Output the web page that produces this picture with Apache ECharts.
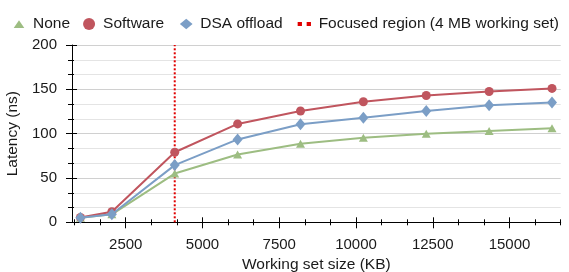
<!DOCTYPE html>
<html>
<head>
<meta charset="utf-8">
<script src="https://cdn.jsdelivr.net/npm/echarts@6/dist/echarts.min.js"></script>
<style>
html,body{margin:0;padding:0;background:#fff;}
#c{width:569px;height:272px;}
</style>
</head>
<body>
<div id="c"></div>
<script>
// ---- data ----
var sizesKB = [1024, 2048, 4096, 6144, 8192, 10240, 12288, 14336, 16384];
var noneLatency = [5, 9, 55, 76.5, 88.5, 95.5, 100, 103, 106];
var softwareLatency = [5.5, 12, 79, 111, 125.5, 136, 143, 147.5, 151];
var dsaLatency = [5, 9, 64.5, 93.5, 110.5, 118, 125.5, 132, 135];
var focusedX = 4096;
var focusedRange = [0, 200];
var xMajorTicks = [2500, 5000, 7500, 10000, 12500, 15000];
var xMinorTicks = [833, 1667, 3333, 4167, 5833, 6667, 8333, 9167, 10833, 11667, 13333, 14167, 15833, 16667];
var seriesNames = ['None', 'Software', 'DSA offload', 'Focused region (4 MB working set)'];

function pairs(xs, ys) { return xs.map(function (x, i) { return [x, ys[i]]; }); }

var FONT = '"Liberation Sans", Arial, sans-serif';
var TXT = '#1a1a1a';
var RED = '#c0555e', BLUE = '#7b9ec6', GREEN = '#9dbd82', DOT = '#e00000';
var XMIN = 750, XMAX = 16667;
var TK = '#000';

var chart = echarts.init(document.getElementById('c'), null, {renderer: 'canvas'});

function extraX(inside, ticks, len) {
  return {
    type: 'value', min: XMIN, max: XMAX, gridIndex: 0, position: 'bottom',
    axisLine: {show: false, onZero: false},
    axisTick: {show: true, inside: inside, length: len, customValues: ticks, lineStyle: {color: TK, width: 1}},
    axisLabel: {show: false},
    splitLine: {show: false}
  };
}

var option = {
  animation: false,
  backgroundColor: '#fff',
  textStyle: {fontFamily: FONT},
  legend: {
    left: 5, top: 11,
    itemWidth: 18, itemHeight: 12, itemGap: 13,
    textStyle: {fontFamily: FONT, fontSize: 15.5, color: TXT},
    data: [
      {name: seriesNames[0], icon: 'path://M0,0M18,12M3.7,10L9,2.3L14.3,10Z', itemStyle: {color: GREEN}},
      {name: seriesNames[1], icon: 'circle', itemStyle: {color: RED}},
      {name: seriesNames[2], icon: 'path://M0,0M18,12M9,0.7L15.35,6L9,11.3L2.65,6Z', itemStyle: {color: BLUE}},
      {name: seriesNames[3], icon: 'path://M0,0M18,12M2,4h4.3v4h-4.3zM11,4h4.3v4h-4.3z', itemStyle: {color: DOT}}
    ]
  },
  grid: {left: 72, right: 8.3, top: 45, bottom: 49.7, containLabel: false, outerBoundsMode: 'none'},
  xAxis: [
    {
      type: 'value', min: XMIN, max: XMAX, position: 'bottom',
      name: 'Working set size (KB)', nameLocation: 'middle', nameGap: 34,
      nameTextStyle: {fontFamily: FONT, fontSize: 15.5, color: TXT},
      axisLine: {show: true, onZero: false, lineStyle: {color: '#000', width: 1}},
      axisTick: {show: true, inside: false, length: 6, customValues: xMajorTicks, lineStyle: {color: TK, width: 1}},
      axisLabel: {show: true, customValues: xMajorTicks, margin: 15, fontFamily: FONT, fontSize: 15, color: TXT,
        formatter: function (v) { return String(v); }},
      splitLine: {show: false}
    },
    extraX(true, xMajorTicks, 5),
    extraX(false, xMinorTicks, 3),
    extraX(true, xMinorTicks, 3)
  ],
  yAxis: [
    {
      type: 'value', min: 0, max: 200, interval: 50, position: 'left',
      name: 'Latency (ns)', nameLocation: 'middle', nameGap: 36, nameRotate: 90,
      nameTextStyle: {fontFamily: FONT, fontSize: 15.5, color: TXT},
      axisLine: {show: true, lineStyle: {color: '#000', width: 1}},
      axisTick: {show: true, inside: false, length: 6, lineStyle: {color: TK, width: 1}},
      minorTick: {show: true, splitNumber: 3, length: 4, lineStyle: {color: TK, width: 1}},
      axisLabel: {margin: 15, fontFamily: FONT, fontSize: 15, color: TXT},
      splitLine: {show: true, lineStyle: {color: '#d0d0d0', width: 1}},
      minorSplitLine: {show: true, lineStyle: {color: '#e4e4e4', width: 1}}
    },
    {
      type: 'value', min: 0, max: 200, interval: 50, position: 'left',
      axisLine: {show: false},
      axisTick: {show: true, inside: true, length: 5, lineStyle: {color: TK, width: 1}},
      minorTick: {show: true, splitNumber: 3, length: 2, lineStyle: {color: TK, width: 1}},
      axisLabel: {show: false},
      splitLine: {show: false},
      minorSplitLine: {show: false}
    }
  ],
  series: [
    {
      name: seriesNames[3], type: 'line', z: 1,
      data: [[focusedX, focusedRange[0]], [focusedX, focusedRange[1]]],
      symbol: 'none',
      lineStyle: {color: DOT, width: 2, type: [2, 2]},
      itemStyle: {color: DOT}
    },
    {
      name: seriesNames[0], type: 'line', z: 2,
      data: pairs(sizesKB, noneLatency),
      symbol: 'triangle', symbolSize: [9, 8],
      lineStyle: {color: GREEN, width: 2},
      itemStyle: {color: GREEN}
    },
    {
      name: seriesNames[1], type: 'line', z: 3,
      data: pairs(sizesKB, softwareLatency),
      symbol: 'circle', symbolSize: 9,
      lineStyle: {color: RED, width: 2},
      itemStyle: {color: RED}
    },
    {
      name: seriesNames[2], type: 'line', z: 4,
      data: pairs(sizesKB, dsaLatency),
      symbol: 'diamond', symbolSize: [10, 12],
      lineStyle: {color: BLUE, width: 2},
      itemStyle: {color: BLUE}
    }
  ]
};
chart.setOption(option);
</script>
</body>
</html>
